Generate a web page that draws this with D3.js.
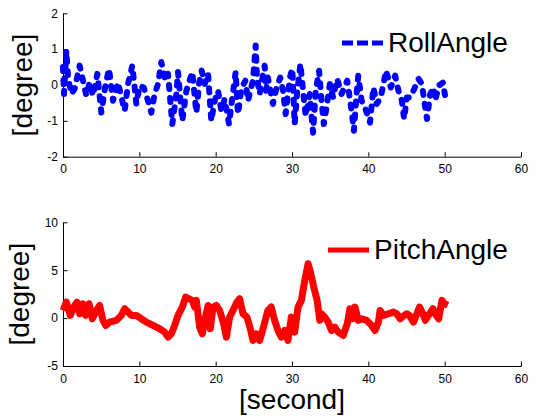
<!DOCTYPE html>
<html>
<head>
<meta charset="utf-8">
<script src="https://cdn.jsdelivr.net/npm/d3@7"></script>
<style>
  body { margin: 0; background: #fff; }
  svg { display: block; font-family: "Liberation Sans", Arial, sans-serif; }
  .axis path, .axis line { stroke: #000; }
  .axis text { font-size: 12px; fill: #000; }
</style>
</head>
<body>
<div id="chart"></div>
<script>
// roll angle (time in s, value in degree)
let rollTime = [0, 0.13, 0.44, 0.66, 1.09, 1.53, 2.18, 2.62, 3.06, 3.49, 3.93, 4.5, 5.02, 5.59, 6.03, 6.55, 7.21, 7.51, 8.08, 8.52,
    9.08, 9.61, 10.04, 10.57, 11.14, 11.57, 12.01, 12.45, 12.88, 13.41, 13.76, 14.32, 14.85, 15.07, 15.63, 16.16, 16.94, 17.47, 17.82, 18.17,
    18.56, 19.0, 19.43, 19.87, 20.31, 20.74, 21.18, 21.75, 22.18, 22.62, 22.93, 23.36, 23.89, 24.24, 24.54, 24.89, 25.24, 25.41, 25.76, 26.42,
    26.62, 26.84, 27.5, 27.94, 28.46, 28.82, 29.17, 29.47, 29.78, 30.04, 30.35, 30.66, 31.1, 31.45, 31.8, 32.32, 32.76, 33.11, 33.55, 33.86,
    34.17, 34.52, 34.96, 35.39, 35.92, 36.49, 37.24, 37.81, 38.11, 38.46, 38.68, 39.12, 39.56, 40.22, 40.66, 41.1, 41.62, 42.32, 42.94, 43.51,
    43.95, 44.39, 44.69, 45.04, 45.48, 46.01, 46.58, 47.02, 47.32, 47.68, 48.11, 48.55, 48.77, 49.21, 49.78, 50.09, 50.4];
let rollValue = [0.5, -0.25, 0.96, 0.21, -0.25, -0.11, 0.54, 0.12, -0.3, 0.07, -0.3, 0.31, -0.77, 0.03, 0.45, -0.44, 0.07, -0.21, -0.72, 0.03,
    0.54, -0.53, -0.02, -0.07, -0.44, -0.77, -0.25, 0.03, 0.64, 0.12, 0.31, -1.09, -0.25, 0.36, -1.0, -0.16, 0.36, -0.77, 0.03, 0.4,
    0.03, 0.31, -1.0, -0.44, -0.16, -0.72, -0.39, -1.09, -0.35, 0.36, -0.81, -0.11, 0.12, -0.44, -0.16, 0.12, 1.1, 0.21, -0.25, 0.54,
    -0.16, 0.21, -0.53, -0.11, 0.21, -0.16, -0.81, -0.25, 0.26, 0.45, -1.09, -0.25, 0.59, -0.16, -0.86, -0.25, -1.33, -0.16, 0.4, -0.44,
    -1.09, -0.63, 0.03, -0.35, 0.17, -0.25, 0.12, -0.72, -1.28, -0.25, 0.26, -0.44, -0.63, -1.05, -0.07, -0.53, -0.35, 0.4, -0.07, 0.26,
    -0.16, -0.44, -0.95, -0.35, -0.35, -0.11, 0.17, 0.03, -0.44, -0.95, -0.25, -0.07, -0.44, -0.02, 0.07, -0.35, -0.3];

// pitch angle
let pitchTime = [0, 0.44, 0.96, 1.4, 1.83, 2.18, 2.62, 2.97, 3.41, 3.84, 4.37, 4.8, 5.24, 5.59, 6.11, 6.99, 7.64, 8.08, 8.52, 8.95,
    9.61, 10.26, 10.92, 11.79, 12.66, 13.32, 13.76, 14.19, 14.63, 15.07, 15.63, 16.07, 16.51, 16.94, 17.25, 17.47, 17.9, 18.25, 18.56, 19.0,
    19.3, 19.65, 20.09, 20.52, 21.05, 21.4, 21.83, 22.27, 22.79, 23.14, 23.58, 24.1, 24.54, 24.89, 25.33, 25.76, 26.2, 26.84, 27.28, 27.72,
    28.16, 28.6, 29.04, 29.47, 29.91, 30.35, 30.79, 31.23, 31.67, 32.11, 32.41, 32.85, 33.29, 33.64, 33.86, 34.3, 34.74, 35.18, 35.61, 36.05,
    36.71, 37.24, 37.59, 37.94, 38.25, 38.68, 39.12, 39.78, 40.44, 40.88, 41.32, 41.54, 41.97, 42.63, 43.29, 43.73, 44.17, 44.69, 45.04, 45.39,
    45.92, 46.36, 46.71, 47.15, 47.46, 47.89, 48.46, 48.9, 49.21, 49.65, 49.96, 50.4];
let pitchValue = [0.8, 1.67, 0.28, 1.15, 1.67, 0.45, 1.5, 0.28, 1.5, -0.07, 0.8, 1.32, -0.24, -0.77, -0.42, -0.24, 0.28, 0.98, 0.63, 0.28,
    0.28, -0.07, -0.42, -0.77, -1.11, -1.46, -1.99, -1.64, -0.77, 0.28, 1.15, 2.2, 2.02, 1.85, 1.15, 1.85, -0.94, -1.64, -0.24, 1.32,
    -1.11, 1.15, 1.32, 0.8, -0.59, -1.99, 0.1, 0.8, 1.67, 2.02, 0.45, 0.1, -1.11, -2.33, -1.64, -2.33, -1.11, 0.8, 1.15, -0.24,
    -1.29, -1.99, -1.29, -2.33, 0.1, -1.46, 1.15, 1.85, 3.94, 5.68, 4.81, 3.24, 1.85, -0.24, 0.45, 0.1, -0.42, -1.29, -0.94, -1.46,
    -1.81, -0.59, 0.98, -0.07, 1.15, -0.24, -0.07, -0.24, -0.77, -1.29, -0.42, 0.8, 0.28, 0.45, 0.63, 0.45, -0.07, 0.28, 0.45, 0.28,
    -0.42, 0.45, 1.15, 0.45, -0.24, 0.28, 0.98, 0.28, -0.07, 1.85, 1.5, 1.32];

let xTicks = [0, 10, 20, 30, 40, 50, 60];
let rollTicks = [-2, -1, 0, 1, 2];
let pitchTicks = [-5, 0, 5, 10];

let width = 539, height = 419;
let left = 63, right = 521;

let svg = d3.select("#chart")
    .append("svg")
    .attr("width", width)
    .attr("height", height);

let x = d3.scaleLinear().domain([0, 60]).range([left, right]);
let fmt = d => String(d); // plain hyphen minus like the original

//draws one panel: axes, line, legend
function panel(top, bottom, yDomain, yTicks, times, values, color, dash, name, legendY, labelX) {
    let y = d3.scaleLinear().domain(yDomain).range([bottom, top]);

    svg.append("g")
        .attr("class", "axis")
        .attr("transform", "translate(0," + bottom + ")")
        .call(d3.axisBottom(x).tickValues(xTicks).tickFormat(fmt).tickSize(-4.5).tickPadding(8).tickSizeOuter(0))
        .call(g => g.selectAll("text").attr("dy", "0.71em"));

    svg.append("g")
        .attr("class", "axis")
        .attr("transform", "translate(" + left + ",0)")
        .call(d3.axisLeft(y).tickValues(yTicks).tickFormat(fmt).tickSize(-4.5).tickPadding(5).tickSizeOuter(0));

    let pts = times.map((t, i) => [t, values[i]]);
    let line = d3.line()
        .x(d => x(d[0]))
        .y(d => y(d[1]));

    svg.append("path")
        .datum(pts)
        .attr("d", line)
        .attr("fill", "none")
        .attr("stroke", color)
        .attr("stroke-width", dash ? 6 : 7)
        .attr("stroke-linejoin", "round")
        .attr("stroke-linecap", dash ? "round" : "butt")
        .attr("stroke-dasharray", dash ? "4,9" : null);

    //y label
    svg.append("text")
        .attr("transform", "translate(" + labelX + "," + ((top + bottom) / 2) + ") rotate(-90)")
        .attr("text-anchor", "middle")
        .style("font-size", "28px")
        .text("[degree]");

    //legend
    let lx = name == "RollAngle" ? 342 : 328;
    svg.append("line")
        .attr("x1", lx).attr("x2", lx + 41)
        .attr("y1", legendY - 9).attr("y2", legendY - 9)
        .attr("stroke", color)
        .attr("stroke-width", 5)
        .attr("stroke-dasharray", dash ? "11,4" : null);
    svg.append("text")
        .attr("x", lx + 46)
        .attr("y", legendY)
        .style("font-size", "28px")
        .text(name);
}

panel(13.3, 156.7, [-2, 2], rollTicks, rollTime, rollValue, "#0000ff", true, "RollAngle", 52, 32);
panel(222.3, 366, [-5, 10], pitchTicks, pitchTime, pitchValue, "#ff0000", false, "PitchAngle", 259, 29);

svg.append("text")
    .attr("x", (left + right) / 2)
    .attr("y", 409)
    .attr("text-anchor", "middle")
    .style("font-size", "28px")
    .text("[second]");
</script>
</body>
</html>
